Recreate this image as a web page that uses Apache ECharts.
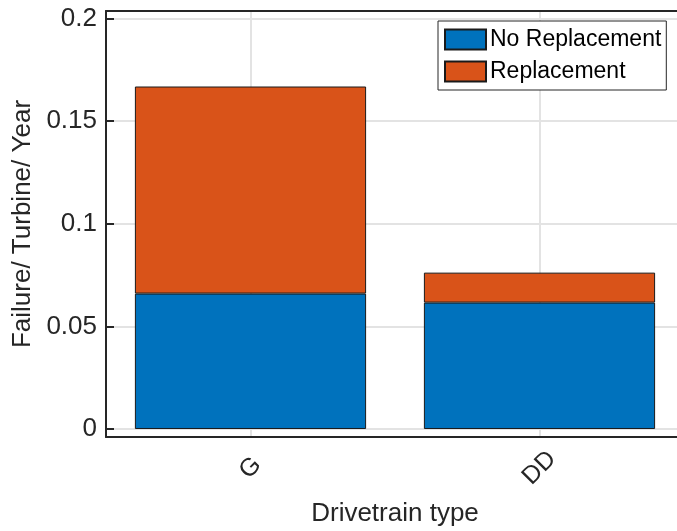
<!DOCTYPE html>
<html>
<head>
<meta charset="utf-8">
<script src="https://cdn.jsdelivr.net/npm/echarts@6/dist/echarts.min.js"></script>
<style>
  html, body { margin: 0; padding: 0; background: #fff; }
  #main { width: 677px; height: 531px; }
</style>
</head>
<body>
<div id="main"></div>
<script>
// 数据
var categories = ['G', 'DD'];
var noReplacement = [0.066, 0.0616];
var replacement = [0.1009, 0.0146];
var yTicks = [0, 0.05, 0.1, 0.15, 0.2];
var xGridAt = [1, 2];

var txt = '#262626';
var fontName = 'Liberation Sans';

var myChart = echarts.init(document.getElementById('main'));
var option = {
    animation: false,
    color: ['#0072BD', '#D95319'],
    textStyle: { fontFamily: fontName, color: txt },
    legend: {
        data: ['No Replacement', 'Replacement'],
        orient: 'vertical',
        left: 438,
        top: 21,
        padding: [7, 5, 7, 6],
        itemGap: 9,
        itemWidth: 41,
        itemHeight: 20,
        icon: 'rect',
        backgroundColor: '#fff',
        borderColor: txt,
        borderWidth: 1,
        borderRadius: 0,
        textStyle: { fontFamily: fontName, fontSize: 23, color: '#000', padding: [0, 0, 0, -1] }
    },
    grid: {
        left: 106,
        top: 11,
        height: 426,
        width: 578,
        outerBoundsMode: 'none',
        containLabel: false
    },
    xAxis: [{
        type: 'category',
        data: categories,
        position: 'bottom',
        name: 'Drivetrain type',
        nameLocation: 'middle',
        nameGap: 64,
        nameTextStyle: { fontSize: 26, color: txt, fontFamily: fontName },
        axisLine: { onZero: false, lineStyle: { color: txt, width: 2 } },
        axisTick: { inside: true, alignWithLabel: true, length: 7, lineStyle: { color: txt, width: 2 } },
        axisLabel: {
            rotate: 45,
            align: 'center',
            margin: 31,
            fontSize: 25,
            color: txt,
            fontFamily: fontName
        },
        splitLine: { show: false }
    }, {
        type: 'category',
        data: categories,
        position: 'top',
        axisLine: { onZero: false, lineStyle: { color: txt, width: 2 } },
        axisTick: { inside: true, alignWithLabel: true, length: 7, lineStyle: { color: txt, width: 2 } },
        axisLabel: { show: false },
        splitLine: { show: false }
    }, {
        // 竖向网格线
        type: 'value',
        min: 0.5,
        max: 2.5,
        position: 'bottom',
        axisLine: { show: false },
        axisTick: { show: false, customValues: xGridAt },
        axisLabel: { show: false, customValues: xGridAt },
        splitLine: { show: true, lineStyle: { color: '#e3e3e3', width: 2 } }
    }],
    yAxis: [{
        type: 'value',
        min: -0.0039,
        max: 0.2037,
        name: 'Failure/ Turbine/ Year',
        nameLocation: 'middle',
        nameGap: 69,
        nameTextStyle: { fontSize: 26, color: txt, fontFamily: fontName },
        axisLine: { show: true, lineStyle: { color: txt, width: 2 } },
        axisTick: { show: true, inside: true, length: 8, customValues: yTicks, lineStyle: { color: txt, width: 2 } },
        axisLabel: { customValues: yTicks, margin: 9, fontSize: 26, color: txt, fontFamily: fontName },
        splitLine: { show: true, lineStyle: { color: '#e3e3e3', width: 2 } }
    }],
    series: [{
        name: 'No Replacement',
        type: 'bar',
        stack: 'total',
        barWidth: '80%',
        itemStyle: { borderColor: '#1a1a1a', borderWidth: 1 },
        data: noReplacement
    }, {
        name: 'Replacement',
        type: 'bar',
        stack: 'total',
        barWidth: '80%',
        itemStyle: { borderColor: '#1a1a1a', borderWidth: 1 },
        data: replacement
    }]
};
myChart.setOption(option);

window.onresize = function () {
    myChart.resize();
};
</script>
</body>
</html>
